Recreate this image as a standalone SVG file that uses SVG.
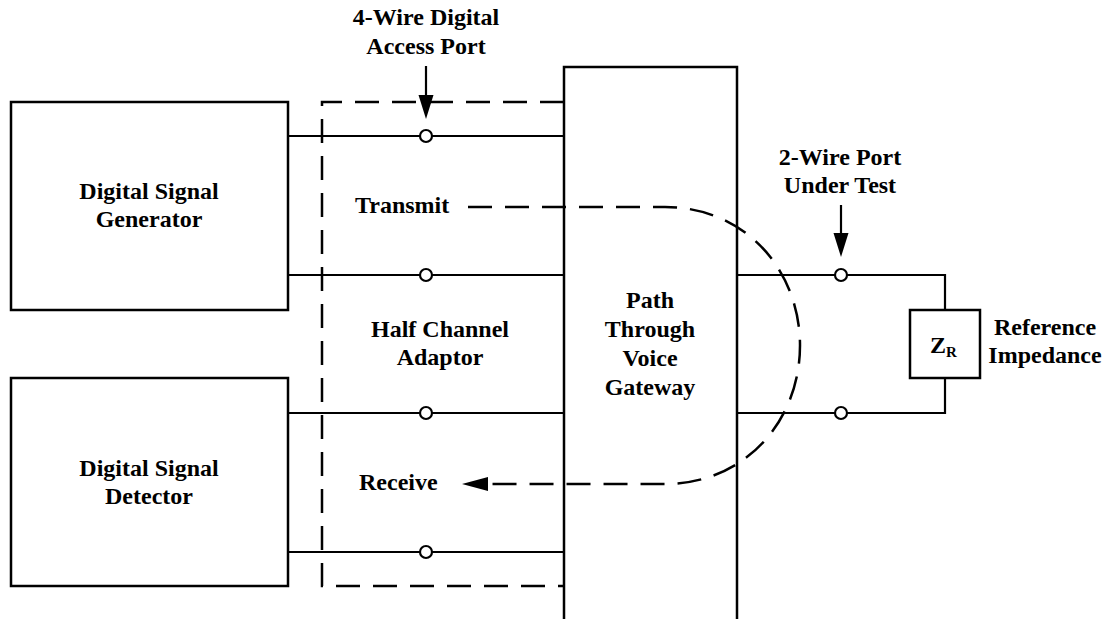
<svg xmlns="http://www.w3.org/2000/svg" width="1109" height="619" viewBox="0 0 1109 619">
  <defs>
    <style>
      text { font-family: "Liberation Serif", "Times New Roman", serif; font-weight: bold; font-size: 24px; fill: #000; }
      .mid { text-anchor: middle; }
      .box { fill: #fff; stroke: #000; stroke-width: 2.5; }
      .wire { fill: none; stroke: #000; stroke-width: 2.2; }
      .dash { fill: none; stroke: #000; stroke-width: 2.5; stroke-dasharray: 24 13; }
      .port { fill: #fff; stroke: #000; stroke-width: 2.2; }
    </style>
  </defs>
  <rect width="1109" height="619" fill="#fff"/>

  <!-- wires between equipment -->
  <g id="connectors">
    <line class="wire" x1="288" y1="136" x2="564" y2="136"/>
    <line class="wire" x1="288" y1="275" x2="564" y2="275"/>
    <line class="wire" x1="288" y1="413" x2="564" y2="413"/>
    <line class="wire" x1="288" y1="552" x2="564" y2="552"/>
    <polyline class="wire" points="737,275 945,275 945,310"/>
    <polyline class="wire" points="737,413 945,413 945,378"/>
    <!-- port pointers -->
    <line class="wire" x1="426" y1="66" x2="426" y2="98"/>
    <polygon points="418.5,95 433.5,95 426,119" fill="#000"/>
    <line class="wire" x1="841" y1="205" x2="841" y2="236"/>
    <polygon points="833.5,233 848.5,233 841,257" fill="#000"/>
  </g>

  <!-- half channel adaptor boundary -->
  <g id="adaptor">
    <polyline class="dash" points="564,102 322,102 322,586 564,586"/>
    <text class="mid" x="440" y="337">Half Channel</text>
    <text class="mid" x="440" y="365">Adaptor</text>
  </g>

  <g id="generator">
    <rect class="box" x="11" y="102" width="277" height="208"/>
    <text class="mid" x="149" y="199">Digital Signal</text>
    <text class="mid" x="149" y="227">Generator</text>
  </g>

  <g id="detector">
    <rect class="box" x="11" y="378" width="277" height="208"/>
    <text class="mid" x="149" y="476">Digital Signal</text>
    <text class="mid" x="149" y="504">Detector</text>
  </g>

  <g id="gateway">
    <polyline fill="#fff" stroke="#000" stroke-width="2.5" points="564,619 564,67 737,67 737,619"/>
    <text class="mid" x="650" y="308">Path</text>
    <text class="mid" x="650" y="337">Through</text>
    <text class="mid" x="650" y="366">Voice</text>
    <text class="mid" x="650" y="395">Gateway</text>
  </g>

  <!-- signal path loop -->
  <g id="signal-path">
    <path class="dash" d="M 468 207 H 665 C 745 207, 800 270, 800 345.5 C 800 421, 745 484, 665 484 H 488"/>
    <polygon points="462,484 488,477 488,491" fill="#000"/>
    <text x="355" y="213">Transmit</text>
    <text x="359" y="490">Receive</text>
  </g>

  <g id="ports">
    <circle class="port" cx="426" cy="136" r="6"/>
    <circle class="port" cx="426" cy="275" r="6"/>
    <circle class="port" cx="426" cy="413" r="6"/>
    <circle class="port" cx="426" cy="552" r="6"/>
    <circle class="port" cx="841" cy="275" r="6"/>
    <circle class="port" cx="841" cy="413" r="6"/>
  </g>

  <g id="access-port-label">
    <text class="mid" x="426" y="25">4-Wire Digital</text>
    <text class="mid" x="426" y="54">Access Port</text>
  </g>

  <g id="two-wire-label">
    <text class="mid" x="840" y="165">2-Wire Port</text>
    <text class="mid" x="840" y="193">Under Test</text>
  </g>

  <g id="impedance">
    <rect class="box" x="910" y="310" width="70" height="68"/>
    <text x="930" y="353">Z<tspan font-size="15" dy="4">R</tspan></text>
    <text class="mid" x="1045" y="335">Reference</text>
    <text class="mid" x="1045" y="363">Impedance</text>
  </g>
</svg>
